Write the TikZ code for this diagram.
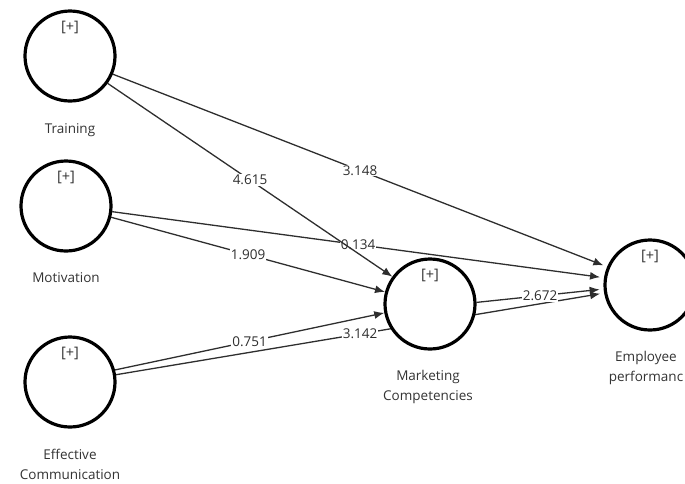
\documentclass[tikz,border=0pt]{standalone}
\usepackage{fontspec}
\setmainfont{Open Sans}
\usetikzlibrary{arrows.meta,calc}
\pgfdeclarelayer{bg}
\pgfsetlayers{bg,main}
\definecolor{lnc}{HTML}{2E2E2E}
\definecolor{txc}{HTML}{333333}
\begin{document}
\begin{tikzpicture}[x=1pt,y=-1pt,
  lv/.style={circle,draw=black,line width=3.2pt,fill=white,minimum size=90pt,inner sep=0pt},
  plus/.style={font=\fontsize{14.5}{16}\selectfont,text=txc,inner sep=0pt},
  lvname/.style={font=\fontsize{13.5}{20}\selectfont,text=txc,align=center,inner sep=0pt,anchor=base},
  conn/.style={draw=lnc,line width=1.3pt,-{Latex[length=10pt,width=8pt]}},
  toep/.style={shorten >=4pt},
  val/.style={fill=white,font=\fontsize{13.5}{16}\selectfont,text=lnc,inner sep=1pt}]
\useasboundingbox (0,0) rectangle (685,483);
% latent variables
\node[lv] (tr) at (70,56) {};
\node[lv] (mo) at (66,206) {};
\node[lv] (ec) at (70,382) {};
\node[lv] (mc) at (430,304) {};
\node[lv] (ep) at (650,285) {};
% [+] markers
\node[plus] (trp) at ($(tr)+(0,-29)$) {[+]};
\node[plus] (mop) at ($(mo)+(0,-29)$) {[+]};
\node[plus] (ecp) at ($(ec)+(0,-29)$) {[+]};
\node[plus] (mcp) at ($(mc)+(0,-29)$) {[+]};
\node[plus] (epp) at ($(ep)+(0,-29)$) {[+]};
% names
\node[lvname] (trn) at ($(tr)+(0,77)$) {Training};
\node[lvname] (mon) at ($(mo)+(0,76)$) {Motivation};
\node[lvname] (ecn) at ($(ec)+(0,97)$) {Effective\\Communication};
\node[lvname] (mcn) at ($(mc)+(-2,96)$) {Marketing\\Competencies};
\node[lvname] (epn) at ($(ep)+(-4,96)$) {Employee\\performanc};
% connectors
\begin{pgfonlayer}{bg}
\draw[conn,toep] (tr.-23) -- node[val] (v1) {3.148} (ep.157);
\draw[conn,toep] (mo.-7.4) -- node[val] (v2) {0.134} (ep.171.7);
\draw[conn] (tr.-36) -- node[val] (v3) {4.615} (mc.144.6);
\draw[conn] (mo.-14.6) -- node[val] (v4) {1.909} (mc.165);
\draw[conn,toep] (ec.9.5) -- node[val] (v5) {3.142} (ep.190.2);
\draw[conn] (ec.15.2) -- node[val] (v6) {0.751} (mc.191.3);
\draw[conn,toep] (mc.2.5) -- node[val] (v7) {2.672} (ep.185.7);
\end{pgfonlayer}
\end{tikzpicture}
\end{document}
